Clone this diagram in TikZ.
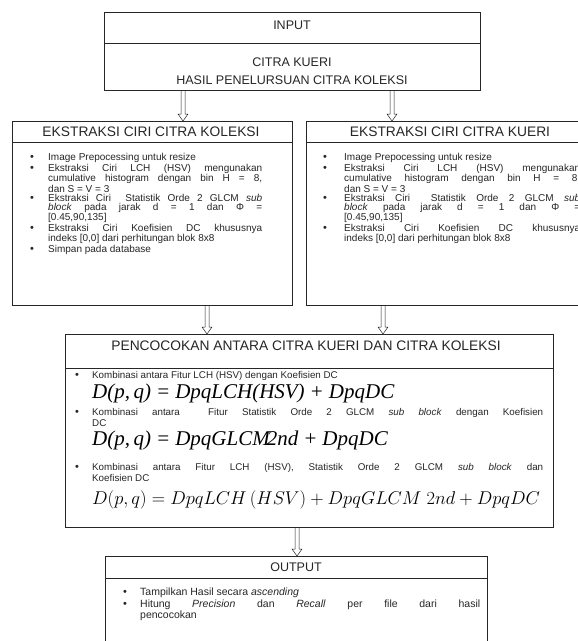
\RequirePackage{fix-cm}
\documentclass[tikz,border=0pt]{standalone}
\usepackage[no-math]{fontspec}
\setmainfont{Liberation Sans}
\newfontfamily\rumus{Liberation Serif}
\usetikzlibrary{calc}
\hbadness=10000
\newcommand{\butir}[2][18pt]{\noindent\hangindent=#1\hangafter=1\makebox[#1][l]{\fontsize{11}{8}\selectfont\textbullet}#2\par}
\newcommand{\sela}{\hspace{5pt}}
\tikzset{
  kotak/.style={draw=black!85, line width=0.6pt, anchor=north west, inner sep=0pt},
  judul/.style={font=\fontsize{13.8}{15}\selectfont, text=black!85, inner sep=0pt},
  isi/.style={anchor=north west, inner sep=0pt, align=justify, text=black!85},
  rumus/.style={anchor=west, inner sep=0pt, font=\rumus\fontsize{21}{20}\selectfont\itshape},
  panah/.style={draw=black!85, line width=0.5pt, to path={let \p1=(\tikztostart), \p2=(\tikztotarget) in
    (\x1-2pt,\y1) -- (\x1-2pt,\y2+7pt) -- (\x1-5pt,\y2+7pt) -- (\x1,\y2) -- (\x1+5pt,\y2+7pt) -- (\x1+2pt,\y2+7pt) -- (\x1+2pt,\y1)}}
}
\begin{document}
\begin{tikzpicture}[x=1pt,y=1pt]
\fill[white] (0,0) rectangle (578,-641);
\useasboundingbox (0,0) rectangle (578,-641);
\clip (0,0) rectangle (578,-641);

\node[kotak, minimum width=376pt, minimum height=78pt] (inp) at (104,-12) {};
\draw[black!85] ([yshift=-31pt]inp.north west) -- ([yshift=-31pt]inp.north east);
\node[judul, font=\fontsize{12.5}{14}\selectfont] (tinp) at (292,-25) {INPUT};
\node[judul, font=\fontsize{12.5}{14}\selectfont] (kueri) at (292,-62) {CITRA KUERI};
\node[judul, font=\fontsize{12.5}{14}\selectfont] (hasil) at (292,-80) {HASIL PENELURSUAN CITRA KOLEKSI};

\node[kotak, minimum width=280pt, minimum height=184pt] (kol) at (12,-121) {};
\draw[black!85] ([yshift=-21pt]kol.north west) -- ([yshift=-21pt]kol.north east);
\node[judul] (tkol) at (151,-132) {EKSTRAKSI CIRI CITRA KOLEKSI};
\node[isi, text width=232pt, font=\fontsize{10}{8.8}\selectfont\setlength{\parskip}{0.6pt}] (ikol) at (30,-153) {%
\butir{Image Prepocessing untuk resize}
\butir{Ekstraksi Ciri LCH (HSV) mengunakan\linebreak cumulative histogram dengan bin H = 8,\linebreak dan S = V = 3}
\butir{Ekstraksi Ciri\ \ Statistik Orde 2 GLCM \textit{sub}\linebreak \textit{block} pada jarak d = 1 dan Φ =\linebreak {[}0.45,90,135]}
\butir{Ekstraksi Ciri Koefisien DC khususnya\linebreak indeks [0,0] dari perhitungan blok 8x8}
\butir{Simpan pada database}};

\node[kotak, minimum width=288pt, minimum height=184pt] (kue) at (306,-121) {};
\draw[black!85] ([yshift=-21pt]kue.north west) -- ([yshift=-21pt]kue.north east);
\node[judul] (tkue) at (450,-132) {EKSTRAKSI CIRI CITRA KUERI};
\node[isi, text width=257pt, font=\fontsize{10}{8.8}\selectfont\setlength{\parskip}{0.6pt}] (ikue) at (323,-153) {%
\butir[21pt]{Image Prepocessing untuk resize}
\butir[21pt]{Ekstraksi Ciri LCH (HSV) mengunakan\linebreak cumulative histogram dengan bin H = 8,\linebreak dan S = V = 3}
\butir[21pt]{Ekstraksi Ciri\ \ Statistik Orde 2 GLCM \textit{sub}\linebreak \textit{block} pada jarak d = 1 dan Φ =\linebreak {[}0.45,90,135]}
\butir[21pt]{Ekstraksi Ciri Koefisien DC khususnya\linebreak indeks [0,0] dari perhitungan blok 8x8}};

\node[kotak, minimum width=488pt, minimum height=193pt] (cocok) at (65,-334) {};
\draw[black!85] ([yshift=-34pt]cocok.north west) -- ([yshift=-34pt]cocok.north east);
\node[judul] (tcocok) at (306,-346) {PENCOCOKAN ANTARA CITRA KUERI DAN CITRA KOLEKSI};
\node[isi, text width=468pt, font=\fontsize{9.8}{11}\selectfont] (k1) at (75,-371) {%
\butir[17pt]{Kombinasi antara Fitur LCH (HSV) dengan Koefisien DC}};
\node[rumus] (f1) at (92,-393) {D(p,\,q)\sela=\sela DpqLCH(HSV)\sela+\sela DpqDC};
\node[isi, text width=468pt, font=\fontsize{9.8}{11}\selectfont] (k2) at (75,-408) {%
\butir[17pt]{Kombinasi antara\ \ Fitur Statistik Orde 2 GLCM \textit{sub block} dengan Koefisien\linebreak DC}};
\node[rumus] (f2) at (92,-440) {D(p,\,q)\sela=\sela DpqGLCM\kern-3pt 2nd\sela+\sela DpqDC};
\node[isi, text width=468pt, font=\fontsize{9.8}{11}\selectfont] (k3) at (75,-463) {%
\butir[17pt]{Kombinasi antara Fitur LCH (HSV), Statistik Orde 2 GLCM \textit{sub block} dan\linebreak Koefisien DC}};
\node[anchor=west, inner sep=0pt, font=\fontsize{18.5}{18}\selectfont] (f3) at (92,-500) {$D(p,q) = DpqLCH\,(HSV) + DpqGLCM\;2nd + DpqDC$};

\node[kotak, minimum width=382pt, minimum height=100pt] (out) at (105,-556) {};
\draw[black!85] ([yshift=-22pt]out.north west) -- ([yshift=-22pt]out.north east);
\node[judul, font=\fontsize{12.5}{14}\selectfont] (tout) at (296,-567) {OUTPUT};
\node[isi, text width=357pt, font=\fontsize{10.5}{11.3}\selectfont] (iout) at (123,-588) {%
\butir[17pt]{Tampilkan Hasil secara \textit{ascending}}
\butir[17pt]{Hitung \textit{Precision} dan \textit{Recall} per file dari hasil\linebreak pencocokan}};

\coordinate (a1) at (183,0);
\coordinate (a2) at (392,0);
\coordinate (a3) at (207,0);
\coordinate (a4) at (383,0);
\coordinate (a5) at (297,0);
\draw[panah] (inp.south -| a1) to (kol.north -| a1);
\draw[panah] (inp.south -| a2) to (kue.north -| a2);
\draw[panah] (kol.south -| a3) to (cocok.north -| a3);
\draw[panah] (kue.south -| a4) to (cocok.north -| a4);
\draw[panah] (cocok.south -| a5) to (out.north -| a5);
\end{tikzpicture}
\end{document}
